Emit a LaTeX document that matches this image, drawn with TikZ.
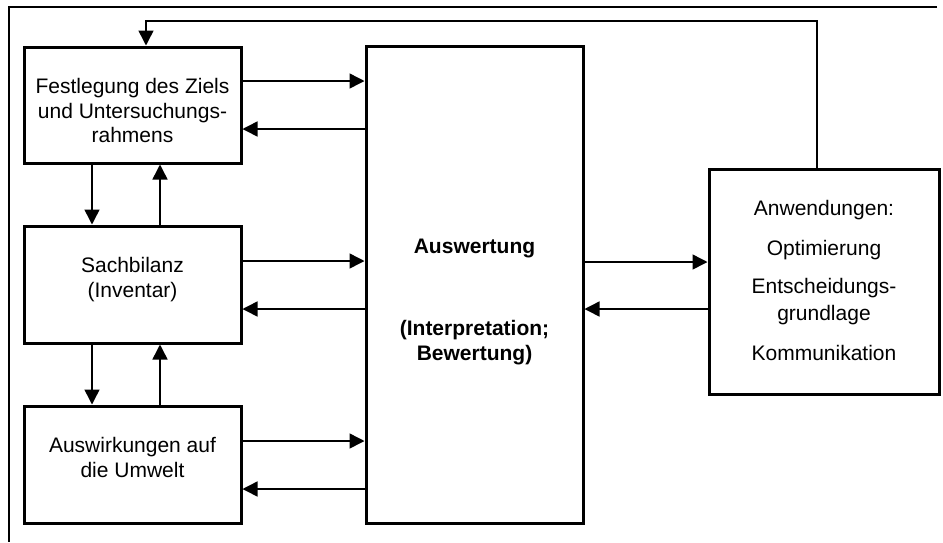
\documentclass[tikz,border=0pt]{standalone}
\usepackage{fontspec}
\setmainfont{Liberation Sans}
\usetikzlibrary{arrows.meta}
\begin{document}
\begin{tikzpicture}[x=1pt,y=-1pt,
  box/.style={draw,line width=3pt,minimum width=#1,inner sep=0pt},
  lbl/.style={anchor=base,inner sep=0pt,font=\fontsize{21}{24}\selectfont},
  conn/.style={line width=1.5pt,-{Triangle[length=15pt,width=15pt]}},
  frame/.style={line width=1.6pt}]
\useasboundingbox (0,0) rectangle (943,542);
% outer frame
\coordinate (ftr) at (937,7);
\coordinate (ftl) at (9,7);
\coordinate (fbl) at (9,542);
\draw[frame] (ftr) -- (ftl) -- (fbl);
% boxes
\node[box=217pt,minimum height=116pt] (b1) at (132.5,105) {};
\node[box=217pt,minimum height=117pt] (b2) at (132.5,284.5) {};
\node[box=217pt,minimum height=117pt] (b3) at (132.5,464.5) {};
\node[box=217pt,minimum height=477pt] (aw) at (474.5,284.5) {};
\node[box=230pt,minimum height=225pt] (an) at (824,281.5) {};
% texts
\node[lbl] (t11) at (132.5,93) {Festlegung des Ziels};
\node[lbl] (t12) at (132.5,118) {und Untersuchungs-};
\node[lbl] (t13) at (132.5,142) {rahmens};
\node[lbl] (t21) at (132.5,272) {Sachbilanz};
\node[lbl] (t22) at (132.5,297) {(Inventar)};
\node[lbl] (t31) at (132.5,452) {Auswirkungen auf};
\node[lbl] (t32) at (132.5,477) {die Umwelt};
\node[lbl,font=\fontsize{21}{24}\selectfont\bfseries] (a1) at (474.5,253) {Auswertung};
\node[lbl,font=\fontsize{21}{24}\selectfont\bfseries] (a2) at (474.5,335) {(Interpretation;};
\node[lbl,font=\fontsize{21}{24}\selectfont\bfseries] (a3) at (474.5,360) {Bewertung)};
\node[lbl] (r1) at (824,215) {Anwendungen:};
\node[lbl] (r2) at (824,255) {Optimierung};
\node[lbl] (r3) at (824,293) {Entscheidungs-};
\node[lbl] (r4) at (824,320) {grundlage};
\node[lbl] (r5) at (824,360) {Kommunikation};
% horizontal connectors
\foreach \b/\ya/\yb in {b1/81/129, b2/261/309, b3/441/489}{
  \draw[conn] (\b.east |- 0,\ya) -- (aw.west |- 0,\ya);
  \draw[conn] (aw.west |- 0,\yb) -- (\b.east |- 0,\yb);
}
\draw[conn] (aw.east |- 0,262) -- (an.west |- 0,262);
\draw[conn] (an.west |- 0,309) -- (aw.east |- 0,309);
% vertical connectors
\draw[conn] (b1.south -| 92,0) -- (b2.north -| 92,0);
\draw[conn] (b2.north -| 160,0) -- (b1.south -| 160,0);
\draw[conn] (b2.south -| 92,0) -- (b3.north -| 92,0);
\draw[conn] (b3.north -| 160,0) -- (b2.south -| 160,0);
% feedback
\draw[conn] (an.north -| 817,0) -- (817,21) -- (146,21) -- (b1.north -| 146,0);
\end{tikzpicture}
\end{document}
